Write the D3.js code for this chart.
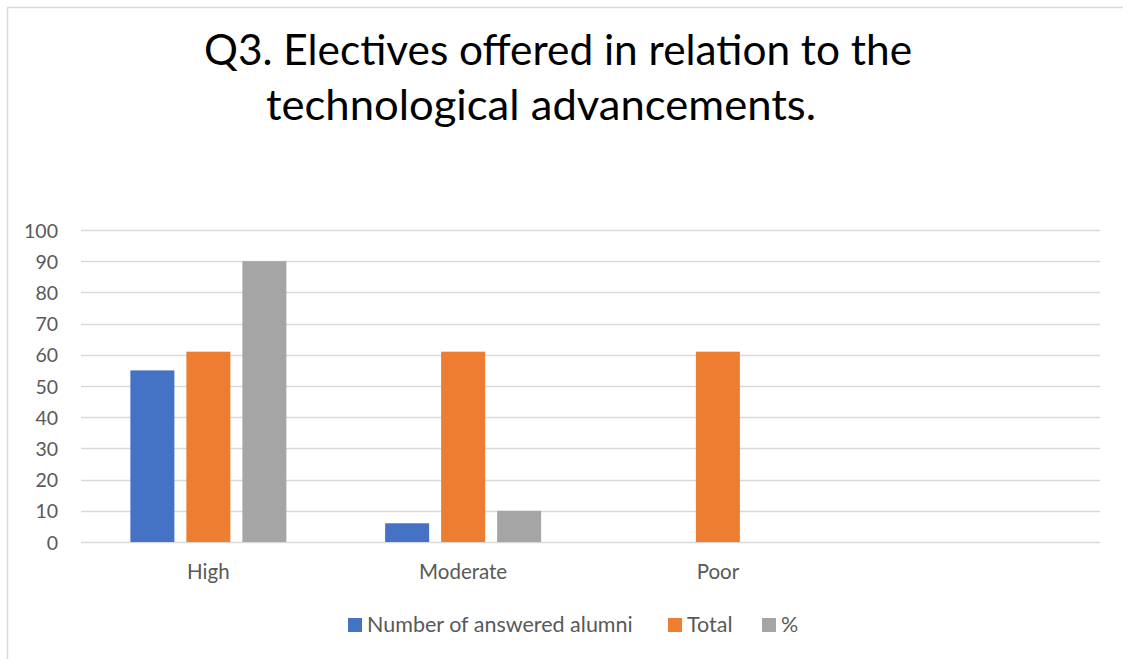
<!DOCTYPE html>
<html><head><meta charset="utf-8">
<script src="https://cdn.jsdelivr.net/npm/d3@7"></script>
<style>body{margin:0;background:#fff;} svg{display:block;}</style>
</head><body>
<svg id="chart" width="1123" height="659"></svg>
<script>
const categories = ["High", "Moderate", "Poor", ""];
const seriesNames = ["Number of answered alumni", "Total", "%"];
const answered = [55, 6, 0, null];
const total = [61, 61, 61, null];
const percent = [90, 10, 0, null];
const colors = ["#4472C4", "#ED7D31", "#A5A5A5"];
const yTicks = [0, 10, 20, 30, 40, 50, 60, 70, 80, 90, 100];
const titleLines = ["Q3. Electives offered in relation to the", "technological advancements."];

const FONT = "Lato, 'Open Sans', sans-serif";
const svg = d3.select("#chart");
const W = 1123, H = 659;

svg.append("rect").attr("x", 7.5).attr("y", 7.5).attr("width", W).attr("height", H)
  .attr("fill", "#fff").attr("stroke", "#D9D9D9").attr("stroke-width", 1.5);

// title (compressed horizontally to mimic a narrow font)
svg.append("text").attr("x", 204).attr("y", 65)
  .attr("font-family", FONT).attr("font-size", 42).attr("fill", "#000")
  .attr("textLength", 708).attr("lengthAdjust", "spacingAndGlyphs").text(titleLines[0]);
svg.append("text").attr("x", 266).attr("y", 120)
  .attr("font-family", FONT).attr("font-size", 42).attr("fill", "#000")
  .attr("textLength", 550).attr("lengthAdjust", "spacingAndGlyphs").text(titleLines[1]);

const plot = {left: 81, right: 1100, top: 230, bottom: 542};
const x = d3.scaleBand().domain(d3.range(categories.length)).range([plot.left, plot.right]).paddingInner(0).paddingOuter(0);
const y = d3.scaleLinear().domain([0, 100]).range([plot.bottom, plot.top]);

// gridlines
svg.append("g").selectAll("line").data(yTicks).join("line")
  .attr("x1", plot.left).attr("x2", plot.right)
  .attr("y1", d => Math.round(y(d)) + 0.5).attr("y2", d => Math.round(y(d)) + 0.5)
  .attr("stroke", "#D9D9D9").attr("stroke-width", 1.5);

// y axis labels
const yAxis = d3.axisLeft(y).tickValues(yTicks).tickSize(0).tickPadding(0);
const ya = svg.append("g").attr("transform", `translate(58,0)`).call(yAxis);
ya.select(".domain").remove();
ya.selectAll("text").attr("font-family", FONT).attr("font-size", 19.5).attr("fill", "#595959").attr("dy", "0.36em");

// bars
const data = [answered, total, percent];
const bw = 44, gap = 12;
const inner = d3.scaleBand().domain([0, 1, 2]).range([0, 3 * bw + 2 * gap]).paddingInner(gap / (bw + gap)).paddingOuter(0);
const groups = svg.append("g");
categories.forEach((c, i) => {
  const cx = x(i) + x.bandwidth() / 2;
  const g0 = cx - (3 * bw + 2 * gap) / 2;
  data.forEach((s, j) => {
    const v = s[i];
    if (v == null || v === 0) return;
    groups.append("rect")
      .attr("x", g0 + inner(j)).attr("width", inner.bandwidth())
      .attr("y", y(v)).attr("height", y(0) - y(v))
      .attr("fill", colors[j]);
  });
});

// x labels
const xAxis = d3.axisBottom(x).tickFormat(i => categories[i]).tickSize(0).tickPadding(0);
const xa = svg.append("g").attr("transform", `translate(0,579)`).call(xAxis);
xa.select(".domain").remove();
xa.selectAll("text").attr("font-family", FONT).attr("font-size", 20.5).attr("fill", "#595959").attr("dy", 0);

// legend
const legX = [348, 668, 762];
const lg = svg.append("g");
seriesNames.forEach((n, j) => {
  lg.append("rect").attr("x", legX[j]).attr("y", 618).attr("width", 14).attr("height", 14).attr("fill", colors[j]);
  lg.append("text").attr("x", legX[j] + 19).attr("y", 632).attr("font-family", FONT).attr("font-size", 21.5)
    .attr("fill", "#595959").text(n);
});
</script>
</body></html>
